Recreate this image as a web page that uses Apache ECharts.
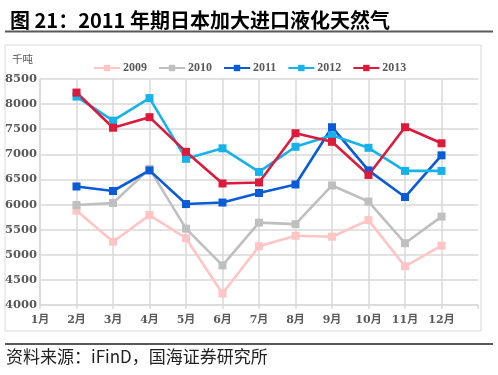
<!DOCTYPE html>
<html>
<head>
<meta charset="utf-8">
<script src="https://cdn.jsdelivr.net/npm/echarts@6/dist/echarts.min.js"></script>
<style>
  html, body { margin: 0; padding: 0; background: #fff; }
  #main { width: 498px; height: 375px; }
</style>
</head>
<body>
<div id="main"></div>
<script>
// 月份（最后一格留空，给右边留出一段网格）
var months = ['1月', '2月', '3月', '4月', '5月', '6月', '7月', '8月', '9月', '10月', '11月', '12月', ''];
var yearNames = ['2009', '2010', '2011', '2012', '2013'];
var yTicks = [4000, 4500, 5000, 5500, 6000, 6500, 7000, 7500, 8000, 8500];

// 单位：千吨，1月无数据
var lng2009 = [null, 5880, 5260, 5790, 5330, 4230, 5170, 5380, 5360, 5690, 4770, 5180];
var lng2010 = [null, 5990, 6030, 6710, 5520, 4790, 5640, 5610, 6380, 6060, 5230, 5760];
var lng2011 = [null, 6360, 6270, 6680, 6010, 6040, 6230, 6400, 7540, 6680, 6150, 6980];
var lng2012 = [null, 8150, 7670, 8120, 6910, 7120, 6650, 7150, 7380, 7130, 6670, 6670];
var lng2013 = [null, 8230, 7530, 7740, 7050, 6420, 6440, 7420, 7250, 6590, 7540, 7220];

var lineColors = ['#ffc4c4', '#bfbfbf', '#0a5bd6', '#17b2ea', '#dc1a3c'];
var allData = [lng2009, lng2010, lng2011, lng2012, lng2013];

var serif = '"Liberation Serif", "Noto Sans CJK SC", serif';
var serifWide = '"DejaVu Serif", "Noto Sans CJK SC", serif';

var chart = echarts.init(document.getElementById('main'));

var seriesList = [];
for (var i = 0; i < yearNames.length; i++) {
  seriesList.push({
    name: yearNames[i],
    type: 'line',
    data: allData[i],
    symbol: 'rect',
    symbolSize: 8,
    showAllSymbol: true,
    connectNulls: false,
    lineStyle: { width: 2.6, color: lineColors[i] },
    itemStyle: { color: lineColors[i] },
    emphasis: { disabled: true }
  });
}

var option = {
  animation: false,
  color: lineColors,
  title: {
    text: '图 21：2011 年期日本加大进口液化天然气',
    left: 5,
    top: 5,
    textStyle: {
      fontFamily: '"Noto Sans CJK SC", sans-serif',
      fontWeight: 'bold',
      fontSize: 20,
      color: '#000'
    }
  },
  legend: {
    data: yearNames,
    left: 88,
    top: 57,
    itemWidth: 26,
    itemHeight: 8,
    itemGap: 11,
    textStyle: {
      fontFamily: serif,
      fontWeight: 'bold',
      fontSize: 12,
      color: '#595959',
      padding: [0, 0, 0, -2]
    }
  },
  grid: {
    left: 40,
    right: 20,
    top: 79,
    bottom: 70
  },
  xAxis: {
    type: 'category',
    boundaryGap: false,
    data: months,
    axisLine: { lineStyle: { color: '#d9d9d9', width: 1.5 } },
    axisTick: { show: true, length: 4, lineStyle: { color: '#d9d9d9', width: 1.5 } },
    axisLabel: {
      margin: 10,
      fontFamily: serifWide,
      fontWeight: 'bold',
      fontSize: 11,
      color: '#595959',
      interval: 0
    },
    splitLine: {
      show: true,
      showMaxLine: false,
      lineStyle: { color: '#d9d9d9', width: 1.5 }
    }
  },
  yAxis: {
    type: 'value',
    min: yTicks[0],
    max: yTicks[yTicks.length - 1],
    interval: 500,
    axisLine: { show: true, lineStyle: { color: '#d9d9d9', width: 1.5 } },
    axisTick: { show: false },
    axisLabel: {
      margin: 3,
      fontFamily: serifWide,
      fontWeight: 'bold',
      fontSize: 11.5,
      color: '#595959',
      formatter: function (v) { return String(v); }
    },
    splitLine: { lineStyle: { color: '#d9d9d9', width: 1.5 } }
  },
  graphic: [
    { type: 'rect', shape: { x: 5, y: 45, width: 476, height: 286 },
      style: { fill: 'none', stroke: '#d9d9d9', lineWidth: 1 }, z: -1 },
    { type: 'line', shape: { x1: 5, y1: 31.5, x2: 493, y2: 31.5 },
      style: { stroke: '#595959', lineWidth: 2 } },
    { type: 'line', shape: { x1: 5, y1: 344, x2: 493, y2: 344 },
      style: { stroke: '#595959', lineWidth: 2 } },
    { type: 'text', left: 12, top: 54,
      style: { text: '千吨', fontSize: 10.5, fill: '#595959',
        fontFamily: '"Noto Sans CJK SC", sans-serif' } },
    { type: 'text', left: 6, top: 348,
      style: { text: '资料来源：iFinD，国海证券研究所', fontSize: 17, fill: '#222',
        fontFamily: '"Noto Sans CJK SC", sans-serif' } }
  ],
  series: seriesList
};

chart.setOption(option);
</script>
</body>
</html>
